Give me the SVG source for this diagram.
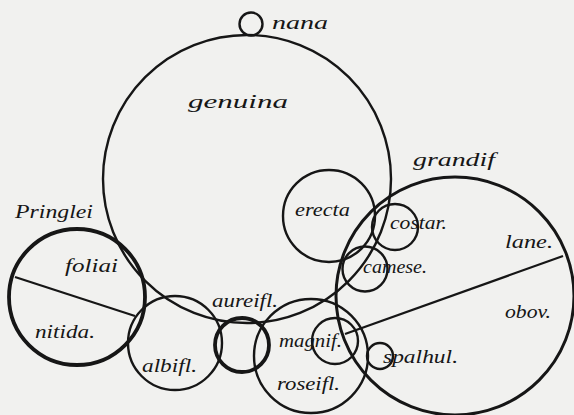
<svg xmlns="http://www.w3.org/2000/svg" width="574" height="415" viewBox="0 0 574 415">
<style>
.c{fill:none;stroke:#161616;stroke-width:2.4}
.t{fill:none;stroke:#161616;stroke-width:3.8}
.m{fill:none;stroke:#161616;stroke-width:3}
.l{stroke:#161616;stroke-width:2.2;fill:none}
text{font-family:"Liberation Serif","DejaVu Serif",serif;font-style:italic;font-size:19px;fill:#161616}
</style>
<rect width="574" height="415" fill="#f1f1ef"/>
<g id="genuina"><circle class="c" cx="247" cy="179" r="144"/><text x="188" y="108" textLength="100" lengthAdjust="spacingAndGlyphs" font-size="22">genuina</text></g>
<g id="nana"><circle class="c" cx="251" cy="24" r="11.5"/><text x="272" y="29" textLength="56" lengthAdjust="spacingAndGlyphs">nana</text></g>
<g id="grandif"><circle class="m" cx="455" cy="296" r="119"/><line class="l" x1="563" y1="256" x2="345" y2="334"/><text x="413" y="166" textLength="82" lengthAdjust="spacingAndGlyphs" font-size="21">grandif</text><text x="505" y="248" textLength="48" lengthAdjust="spacingAndGlyphs">lane.</text><text x="505" y="318" textLength="46" lengthAdjust="spacingAndGlyphs">obov.</text></g>
<g id="erecta"><circle class="c" cx="329" cy="216" r="46"/><text x="295" y="216" textLength="55" lengthAdjust="spacingAndGlyphs">erecta</text></g>
<g id="costar"><circle class="c" cx="395" cy="227" r="23"/><text x="390" y="229" textLength="57" lengthAdjust="spacingAndGlyphs">costar.</text></g>
<g id="camese"><circle class="c" cx="365" cy="269" r="22.5"/><text x="363" y="273" textLength="64" lengthAdjust="spacingAndGlyphs">camese.</text></g>
<g id="spalhul"><circle class="c" cx="380" cy="356" r="13"/><text x="383" y="363" textLength="75" lengthAdjust="spacingAndGlyphs">spalhul.</text></g>
<g id="roseifl"><circle class="c" cx="311" cy="356" r="57"/><text x="277" y="390" textLength="63" lengthAdjust="spacingAndGlyphs">roseifl.</text></g>
<g id="magnif"><circle class="c" cx="335" cy="341" r="23"/><text x="279" y="347" textLength="63" lengthAdjust="spacingAndGlyphs">magnif.</text></g>
<g id="aureifl"><circle class="t" cx="242" cy="345" r="27"/><text x="212" y="307" textLength="66" lengthAdjust="spacingAndGlyphs">aureifl.</text></g>
<g id="albifl"><circle class="c" cx="175" cy="343" r="47"/><text x="142" y="372" textLength="55" lengthAdjust="spacingAndGlyphs">albifl.</text></g>
<g id="pringlei"><circle class="t" cx="77" cy="297" r="68"/><line class="l" x1="15" y1="277" x2="135" y2="316"/><text x="15" y="218" textLength="78" lengthAdjust="spacingAndGlyphs" font-size="20">Pringlei</text><text x="65" y="272" textLength="53" lengthAdjust="spacingAndGlyphs">foliai</text><text x="35" y="338" textLength="60" lengthAdjust="spacingAndGlyphs">nitida.</text></g>
<g id="connectors"></g>
</svg>
